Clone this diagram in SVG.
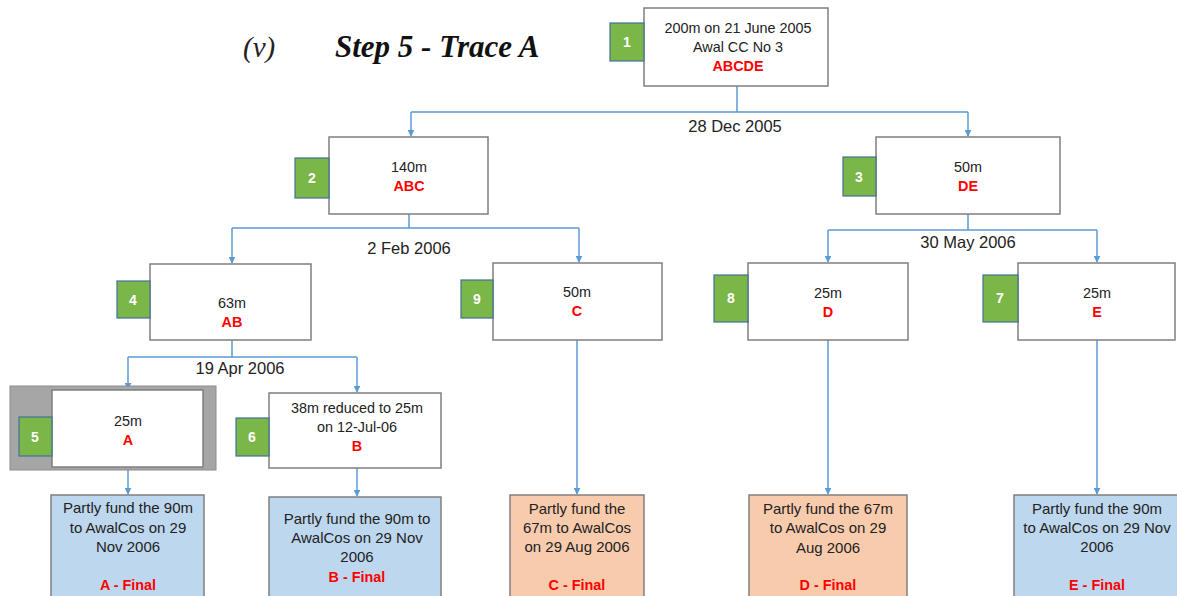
<svg xmlns="http://www.w3.org/2000/svg" width="1177" height="596" viewBox="0 0 1177 596">
<defs>
<marker id="ah" viewBox="0 0 10 10" refX="9" refY="5" markerWidth="7" markerHeight="7" orient="auto" markerUnits="userSpaceOnUse">
<path d="M0,0 L10,5 L0,10 z" fill="#5b9bd5"/>
</marker>
</defs>
<style>
.box{fill:#ffffff;stroke:#7f7f7f;stroke-width:1.5}
.badge{fill:#7ab648;stroke:#41719c;stroke-width:1.2}
.bt{font-family:"Liberation Sans",Arial,sans-serif;font-size:14px;font-weight:bold;fill:#ffffff;text-anchor:middle}
.t{font-family:"Liberation Sans",Arial,sans-serif;font-size:14.4px;fill:#222222;text-anchor:middle}
.f{font-family:"Liberation Sans",Arial,sans-serif;font-size:15px;fill:#222222;text-anchor:middle}
.r{font-family:"Liberation Sans",Arial,sans-serif;font-size:14.4px;font-weight:bold;fill:#ff0000;text-anchor:middle}
.d{font-family:"Liberation Sans",Arial,sans-serif;font-size:16.5px;fill:#222222;text-anchor:middle}
.blue{fill:#bdd7ee;stroke:#7f7f7f;stroke-width:1.5}
.orange{fill:#f8cbad;stroke:#7f7f7f;stroke-width:1.5}
.c{fill:none;stroke:#5b9bd5;stroke-width:1.5}
</style>
<rect width="1177" height="596" fill="#ffffff"/>
<g id="title">
<text x="243" y="57" font-family="Liberation Serif,serif" font-style="italic" font-size="29" fill="#222">(v)</text>
<text x="335" y="57" font-family="Liberation Serif,serif" font-style="italic" font-weight="bold" font-size="31" fill="#111">Step 5 - Trace A</text>
</g>
<g id="connectors">
<path class="c" d="M737,86 V112 M411,112 H968"/>
<path class="c" d="M411,112 V136" marker-end="url(#ah)"/>
<path class="c" d="M968,112 V136" marker-end="url(#ah)"/>
<path class="c" d="M409,214 V228 M232,228 H579"/>
<path class="c" d="M232,228 V263" marker-end="url(#ah)"/>
<path class="c" d="M579,228 V262" marker-end="url(#ah)"/>
<path class="c" d="M968,214 V230 M828,230 H1097"/>
<path class="c" d="M828,230 V262" marker-end="url(#ah)"/>
<path class="c" d="M1097,230 V262" marker-end="url(#ah)"/>
<path class="c" d="M232,340 V357 M128,357 H357"/>
<path class="c" d="M128,357 V389" marker-end="url(#ah)"/>
<path class="c" d="M357,357 V392" marker-end="url(#ah)"/>
<path class="c" d="M128,470 V494" marker-end="url(#ah)"/>
<path class="c" d="M357,468 V496" marker-end="url(#ah)"/>
<path class="c" d="M577,340 V494" marker-end="url(#ah)"/>
<path class="c" d="M828,340 V494" marker-end="url(#ah)"/>
<path class="c" d="M1097,340 V494" marker-end="url(#ah)"/>
<text class="d" x="735" y="132">28 Dec 2005</text>
<text class="d" x="409" y="254">2 Feb 2006</text>
<text class="d" x="968" y="248">30 May 2006</text>
<text class="d" x="240" y="374">19 Apr 2006</text>
</g>
<g id="node1">
<rect class="box" x="644" y="8" width="184" height="78"/>
<rect class="badge" x="610" y="23" width="34" height="38"/>
<text class="bt" x="627" y="47">1</text>
<text class="t" x="738" y="33">200m on 21 June 2005</text>
<text class="t" x="738" y="52">Awal CC No 3</text>
<text class="r" x="738" y="71">ABCDE</text>
</g>
<g id="node2">
<rect class="box" x="329" y="137" width="159" height="77"/>
<rect class="badge" x="295" y="158" width="34" height="40"/>
<text class="bt" x="312" y="183">2</text>
<text class="t" x="409" y="172">140m</text>
<text class="r" x="409" y="191">ABC</text>
</g>
<g id="node3">
<rect class="box" x="876" y="137" width="184" height="77"/>
<rect class="badge" x="843" y="157" width="33" height="39"/>
<text class="bt" x="859" y="182">3</text>
<text class="t" x="968" y="172">50m</text>
<text class="r" x="968" y="191">DE</text>
</g>
<g id="node4">
<rect class="box" x="150" y="264" width="161" height="76"/>
<rect class="badge" x="117" y="281" width="33" height="37"/>
<text class="bt" x="133" y="305">4</text>
<text class="t" x="232" y="308">63m</text>
<text class="r" x="232" y="327">AB</text>
</g>
<g id="node5">
<rect x="10" y="386" width="206" height="84" fill="#a6a6a6" stroke="#8c8c8c" stroke-width="1"/>
<rect class="box" x="52" y="390" width="151" height="77"/>
<rect class="badge" x="19" y="417" width="33" height="39"/>
<text class="bt" x="35" y="442">5</text>
<text class="t" x="128" y="426">25m</text>
<text class="r" x="128" y="445">A</text>
</g>
<g id="node6">
<rect class="box" x="269" y="393" width="172" height="75"/>
<rect class="badge" x="236" y="418" width="33" height="38"/>
<text class="bt" x="252" y="442">6</text>
<text class="t" x="357" y="413">38m reduced to 25m</text>
<text class="t" x="357" y="432">on 12-Jul-06</text>
<text class="r" x="357" y="451">B</text>
</g>
<g id="node9">
<rect class="box" x="493" y="263" width="169" height="77"/>
<rect class="badge" x="461" y="280" width="32" height="38"/>
<text class="bt" x="477" y="304">9</text>
<text class="t" x="577" y="297">50m</text>
<text class="r" x="577" y="316">C</text>
</g>
<g id="node8">
<rect class="box" x="748" y="263" width="160" height="77"/>
<rect class="badge" x="714" y="275" width="34" height="47"/>
<text class="bt" x="731" y="303">8</text>
<text class="t" x="828" y="298">25m</text>
<text class="r" x="828" y="317">D</text>
</g>
<g id="node7">
<rect class="box" x="1018" y="263" width="157" height="77"/>
<rect class="badge" x="983" y="275" width="35" height="47"/>
<text class="bt" x="1000" y="303">7</text>
<text class="t" x="1097" y="298">25m</text>
<text class="r" x="1097" y="317">E</text>
</g>
<g id="finalA">
<rect class="blue" x="51" y="495" width="153" height="104"/>
<text class="f" x="128" y="513">Partly fund the 90m</text>
<text class="f" x="128" y="533">to AwalCos on 29</text>
<text class="f" x="128" y="552">Nov 2006</text>
<text class="r" x="128" y="590">A - Final</text>
</g>
<g id="finalB">
<rect class="blue" x="269" y="497" width="172" height="102"/>
<text class="f" x="357" y="524">Partly fund the 90m to</text>
<text class="f" x="357" y="543">AwalCos on 29 Nov</text>
<text class="f" x="357" y="562">2006</text>
<text class="r" x="357" y="582">B - Final</text>
</g>
<g id="finalC">
<rect class="orange" x="510" y="495" width="134" height="104"/>
<text class="f" x="577" y="514">Partly fund the</text>
<text class="f" x="577" y="533">67m to AwalCos</text>
<text class="f" x="577" y="552">on 29 Aug 2006</text>
<text class="r" x="577" y="590">C - Final</text>
</g>
<g id="finalD">
<rect class="orange" x="749" y="495" width="158" height="104"/>
<text class="f" x="828" y="514">Partly fund the 67m</text>
<text class="f" x="828" y="533">to AwalCos on 29</text>
<text class="f" x="828" y="553">Aug 2006</text>
<text class="r" x="828" y="590">D - Final</text>
</g>
<g id="finalE">
<rect class="blue" x="1014" y="495" width="165" height="104"/>
<text class="f" x="1097" y="514">Partly fund the 90m</text>
<text class="f" x="1097" y="533">to AwalCos on 29 Nov</text>
<text class="f" x="1097" y="552">2006</text>
<text class="r" x="1097" y="590">E - Final</text>
</g>
</svg>
